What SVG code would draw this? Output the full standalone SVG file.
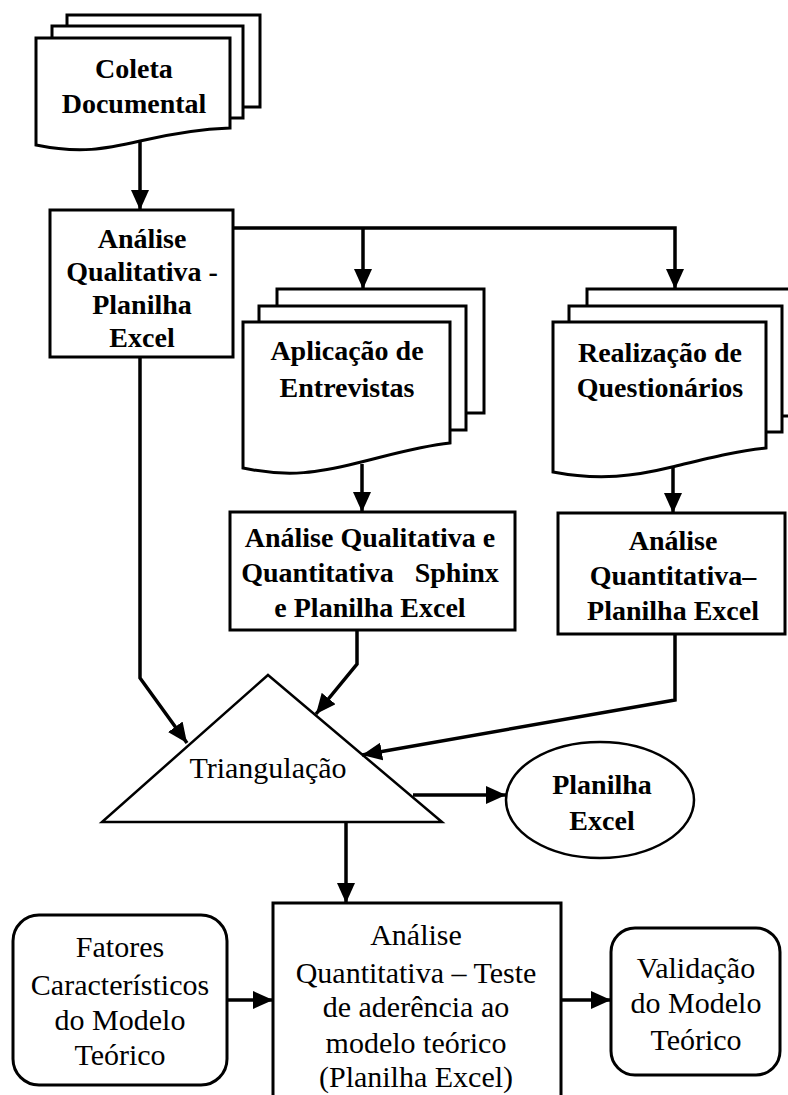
<svg xmlns="http://www.w3.org/2000/svg" width="788" height="1095" viewBox="0 0 788 1095">
  <style>
    .page { fill: #fff; stroke: #000; stroke-width: 3; }
    .box { fill: #fff; stroke: #000; stroke-width: 3; }
    .thin { fill: #fff; stroke: #000; stroke-width: 2.5; }
    .conn { fill: none; stroke: #000; stroke-width: 3.5; }
    .b { font-family: "Liberation Serif", "Times New Roman", serif; font-weight: bold; font-size: 28px; text-anchor: middle; fill: #000; }
    .r { font-family: "Liberation Serif", "Times New Roman", serif; font-weight: normal; font-size: 30px; text-anchor: middle; fill: #000; }
  </style>
  <defs>
    <marker id="arrow" markerUnits="userSpaceOnUse" markerWidth="20" markerHeight="18" refX="20" refY="9" orient="auto">
      <path d="M0,0 L20,9 L0,18 Z" fill="#000"/>
    </marker>
  </defs>
  <rect width="788" height="1095" fill="#fff"/>

  <!-- document stack: Coleta Documental -->
  <g id="coleta">
    <rect class="page" x="67" y="15" width="193" height="92"/>
    <rect class="page" x="52" y="26" width="191" height="92"/>
    <path class="page" d="M36,38 H230 V128 C200,129 170,134 140,141 C105,149 80,154 36,145 Z"/>
    <text class="b" x="134" y="78">Coleta</text>
    <text class="b" x="134" y="113">Documental</text>
  </g>

  <!-- Análise Qualitativa - Planilha Excel -->
  <g id="analise-qualitativa">
    <rect class="box" x="50" y="210" width="183" height="147"/>
    <text class="b" x="142" y="248">Análise</text>
    <text class="b" x="142" y="281">Qualitativa -</text>
    <text class="b" x="142" y="314">Planilha</text>
    <text class="b" x="142" y="347">Excel</text>
  </g>

  <!-- document stack: Aplicação de Entrevistas -->
  <g id="entrevistas">
    <rect class="page" x="277" y="289" width="207" height="124"/>
    <rect class="page" x="259" y="306" width="207" height="124"/>
    <path class="page" d="M243,322 H450 V443 C420,446 390,455 357,463 C320,472 290,478 243,468 Z"/>
    <text class="b" x="347" y="360">Aplicação de</text>
    <text class="b" x="347" y="397">Entrevistas</text>
  </g>

  <!-- document stack: Realização de Questionários -->
  <g id="questionarios">
    <rect class="page" x="587" y="289" width="215" height="127"/>
    <rect class="page" x="569" y="306" width="213" height="126"/>
    <path class="page" d="M553,322 H766 V448 C735,451 705,459 672,467 C635,476 600,481 553,472 Z"/>
    <text class="b" x="660" y="362">Realização de</text>
    <text class="b" x="660" y="397">Questionários</text>
  </g>

  <!-- Análise Qualitativa e Quantitativa Sphinx e Planilha Excel -->
  <g id="analise-sphinx">
    <rect class="box" x="230" y="512" width="285" height="118"/>
    <text class="b" x="370" y="547">Análise Qualitativa e</text>
    <text class="b" x="370" y="582" xml:space="preserve">Quantitativa   Sphinx</text>
    <text class="b" x="370" y="617">e Planilha Excel</text>
  </g>

  <!-- Análise Quantitativa – Planilha Excel -->
  <g id="analise-quantitativa">
    <rect class="box" x="558" y="513" width="227" height="121"/>
    <text class="b" x="673" y="550">Análise</text>
    <text class="b" x="673" y="585">Quantitativa–</text>
    <text class="b" x="673" y="620">Planilha Excel</text>
  </g>

  <!-- Triangulação -->
  <g id="triangulacao">
    <path class="thin" d="M268,675 L442,822 H102 Z"/>
    <text class="r" x="268" y="778">Triangulação</text>
  </g>

  <!-- Planilha Excel (ellipse) -->
  <g id="planilha-excel">
    <ellipse class="thin" cx="600" cy="800" rx="94" ry="58"/>
    <text class="b" x="602" y="794">Planilha</text>
    <text class="b" x="602" y="830">Excel</text>
  </g>

  <!-- Fatores Característicos do Modelo Teórico -->
  <g id="fatores">
    <rect class="box" x="13" y="915" width="214" height="170" rx="26"/>
    <text class="r" x="120" y="957">Fatores</text>
    <text class="r" x="120" y="995">Característicos</text>
    <text class="r" x="120" y="1030">do Modelo</text>
    <text class="r" x="120" y="1065">Teórico</text>
  </g>

  <!-- Análise Quantitativa – Teste de aderência -->
  <g id="teste-aderencia">
    <rect class="box" x="273" y="903" width="288" height="200"/>
    <text class="r" x="416" y="945">Análise</text>
    <text class="r" x="416" y="983">Quantitativa – Teste</text>
    <text class="r" x="416" y="1017">de aderência ao</text>
    <text class="r" x="416" y="1053">modelo teórico</text>
    <text class="r" x="416" y="1087">(Planilha Excel)</text>
  </g>

  <!-- Validação do Modelo Teórico -->
  <g id="validacao">
    <rect class="box" x="611" y="928" width="169" height="147" rx="24"/>
    <text class="r" x="696" y="978">Validação</text>
    <text class="r" x="696" y="1013">do Modelo</text>
    <text class="r" x="696" y="1050">Teórico</text>
  </g>

  <!-- connectors -->
  <g id="connectors">
    <path class="conn" d="M140,142 V210" marker-end="url(#arrow)"/>
    <path class="conn" d="M233,228 H675 V289" marker-end="url(#arrow)"/>
    <path class="conn" d="M363,228 V289" marker-end="url(#arrow)"/>
    <path class="conn" d="M362,464 V512" marker-end="url(#arrow)"/>
    <path class="conn" d="M673,468 V513" marker-end="url(#arrow)"/>
    <path class="conn" d="M140,357 V678 L187,743" marker-end="url(#arrow)"/>
    <path class="conn" d="M357,630 V664 L316,714" marker-end="url(#arrow)"/>
    <path class="conn" d="M675,634 V700 L362,755" marker-end="url(#arrow)"/>
    <path class="conn" d="M413,795 H506" marker-end="url(#arrow)"/>
    <path class="conn" d="M346,822 V903" marker-end="url(#arrow)"/>
    <path class="conn" d="M227,1000 H273" marker-end="url(#arrow)"/>
    <path class="conn" d="M561,1000 H611" marker-end="url(#arrow)"/>
  </g>
</svg>
